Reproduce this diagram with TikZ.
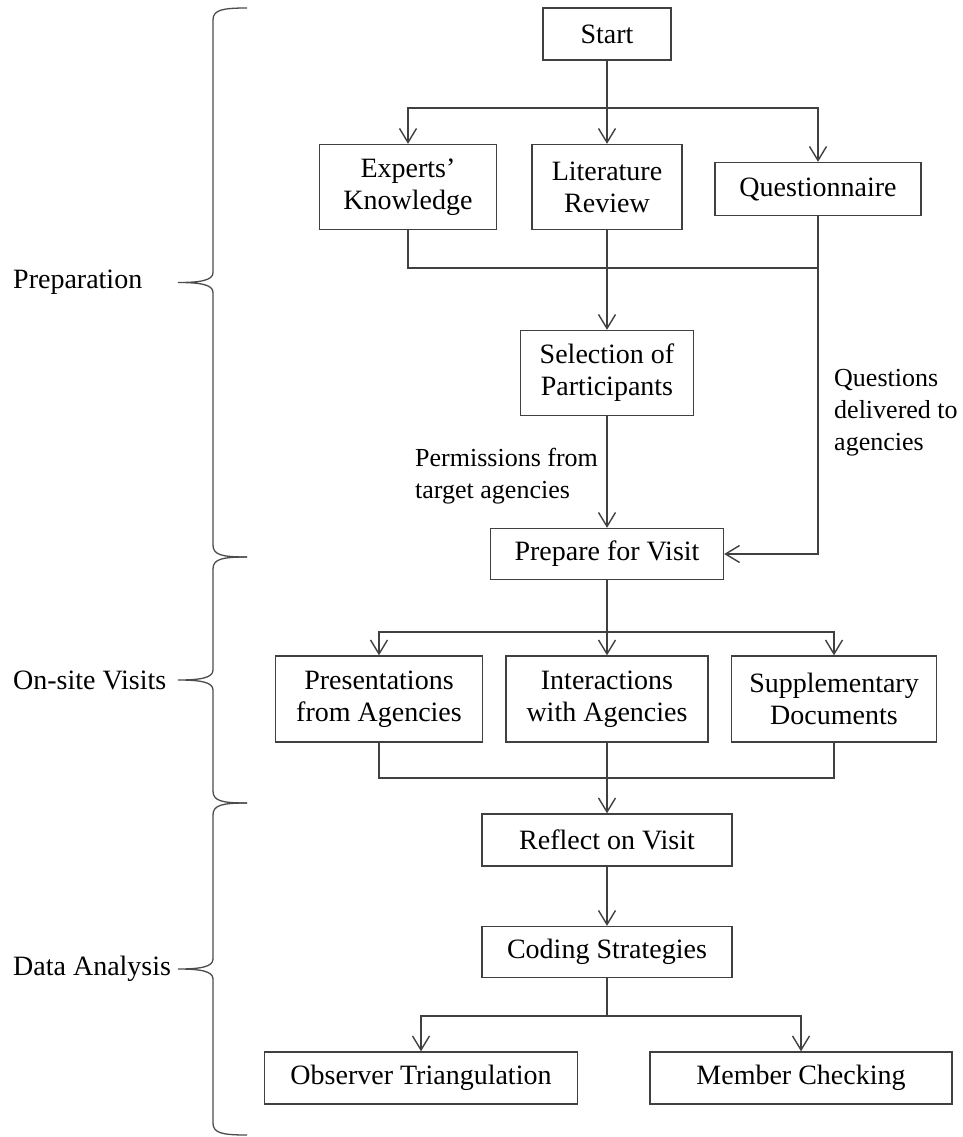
\documentclass[tikz,border=0pt]{standalone}
\usepackage{fontspec}
\setmainfont{Liberation Serif}
\usepackage{tikz}
\usetikzlibrary{calc}
\usetikzlibrary{arrows.meta}
\newcommand{\flowfont}{\fontsize{28}{32}\selectfont}
\newcommand{\notefont}{\fontsize{26}{32}\selectfont}
\tikzset{box/.style={draw=black!75, line width=1.4pt, align=center, inner sep=0pt, font=\flowfont, text=black}}
\tikzset{
lbl/.style={align=left, inner sep=0pt, font=\flowfont, text=black},
note/.style={lbl, font=\notefont},
link/.style={draw=black!75, line width=1.4pt},
arr/.style={link, -{Straight Barb[length=14pt,width=17pt]}},
brace/.style={draw=black!70, line width=1.3pt}
}

\begin{document}
\begin{tikzpicture}[x=1pt,y=-1pt]
\useasboundingbox (0,0) rectangle (962,1137);

% phases on the left
\foreach \ya/\yb/\txt [count=\i] in {8/557/Preparation, 557/803/On-site Visits, 803/1135/Data Analysis}
 {
 \pgfmathsetmacro{\ym}{(\ya+\yb)/2}
 \node[lbl, anchor=west] (phase\i) at (13,\ym) {\txt};
 \draw[brace] (247,\ya) .. controls (222,\ya) and (213,\ya+2) .. (213,\ya+12)
   -- (213,\ym-10) .. controls (213,\ym-2) and (200,\ym) .. (178,\ym)
   .. controls (200,\ym) and (213,\ym+2) .. (213,\ym+10)
   -- (213,\yb-12) .. controls (213,\yb-2) and (222,\yb) .. (247,\yb);
 }

% preparation
\node[box, minimum width=128pt, minimum height=52pt] (start) at (607,34) {Start};
\node[box, minimum width=177pt, minimum height=85pt] (exp) at (408,187) {Experts'\\Knowledge};
\node[box, minimum width=150pt, minimum height=85pt] (lit) at (607,187) {Literature\\Review};
\node[box, minimum width=206pt, minimum height=53pt] (quest) at (818,189) {Questionnaire};
\node[box, minimum width=173pt, minimum height=85pt] (sel) at (607,373) {Selection of\\Participants};
\node[box, minimum width=233pt, minimum height=51pt] (prep) at (607,554) {Prepare for Visit};
\node[note, anchor=west] (perm) at (415,476) {Permissions from\\target agencies};
\node[note, anchor=west] (qdel) at (834,413) {Questions\\delivered to\\agencies};

\coordinate (split1) at (607,108);
\coordinate (join1) at (818,268);
\draw[link] (start.south) -- (split1);
\draw[arr] (split1) -- (lit.north);
\draw[arr] (split1) -| (exp.north);
\draw[arr] (split1) -| (quest.north);
\draw[link] (exp.south) |- (join1);
\draw[arr] (quest.south) |- (prep.east);
\draw[arr] (lit.south) -- (sel.north);
\draw[arr] (sel.south) -- (prep.north);

% on-site visits
\node[box, minimum width=207pt, minimum height=86pt] (pres) at (379,699) {Presentations\\from Agencies};
\node[box, minimum width=202pt, minimum height=86pt] (inter) at (607,699) {Interactions\\with Agencies};
\node[box, minimum width=205pt, minimum height=86pt] (supp) at (834,699) {Supplementary\\Documents};

\coordinate (split2) at (607,632);
\coordinate (join2) at (607,778);
\draw[link] (prep.south) -- (split2);
\draw[arr] (split2) -- (inter.north);
\draw[arr] (split2) -| (pres.north);
\draw[arr] (split2) -| (supp.north);
\draw[link] (pres.south) |- (join2) -| (supp.south);

% data analysis
\node[box, minimum width=250pt, minimum height=52pt] (refl) at (607,840) {Reflect on Visit};
\node[box, minimum width=250pt, minimum height=51pt] (cod) at (607,952) {Coding Strategies};
\node[box, minimum width=313pt, minimum height=52pt] (obs) at (421,1078) {Observer Triangulation};
\node[box, minimum width=302pt, minimum height=52pt] (mem) at (801,1078) {Member Checking};

\coordinate (split3) at (607,1016);
\draw[arr] (inter.south) -- (refl.north);
\draw[arr] (refl.south) -- (cod.north);
\draw[link] (cod.south) -- (split3);
\draw[arr] (split3) -| (obs.north);
\draw[arr] (split3) -| (mem.north);

\end{tikzpicture}
\end{document}
